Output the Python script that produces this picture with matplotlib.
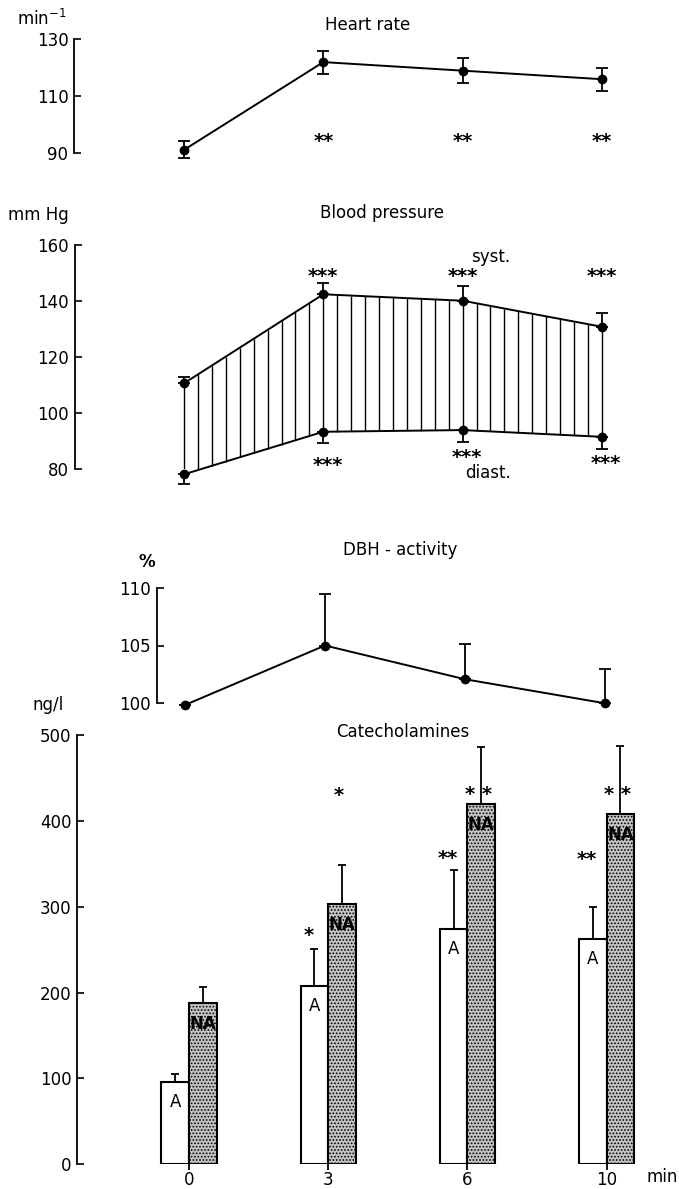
import numpy as np
import matplotlib
matplotlib.use('Agg')
import matplotlib.pyplot as plt

W, H = 679, 1189

times = ['0', '3', '6', '10']
pos = np.arange(len(times))

# heart rate (min-1)
hr = [91.2, 122, 119, 116]
hr_err = [3, 4, 4.5, 4]
hr_stars = ['', '**', '**', '**']
hr_star_y = [None, 95.7, 95.7, 95.7]

# blood pressure (mm Hg)
syst = [110.6, 142.4, 140.1, 130.8]
syst_err = [2.4, 3.9, 5.4, 4.8]
diast = [78.1, 93.3, 93.9, 91.5]
diast_err = [3.5, 4.1, 4.4, 4.4]
syst_stars = ['', '***', '***', '***']
syst_star_y = [None, 150.4, 150.4, 150.4]
diast_stars = ['', '***', '***', '***']
diast_star_y = [None, 83.0, 85.8, 83.6]

# DBH activity (%)
dbh = [99.8, 105.0, 102.05, 99.95]
dbh_err = [0, 4.5, 3.1, 3.0]

# catecholamines (ng/l)
adr = [96, 208, 274, 262]
adr_err = [9, 43, 69, 38]
nor = [188, 303, 420, 408]
nor_err = [18, 46, 66, 79]
adr_stars = ['', '*', '**', '**']
adr_star_y = [None, 272, 362, 361]
nor_stars = ['', '*', '* *', '* *']
nor_star_y = [None, 435, 436, 437]

plt.rcParams['font.family'] = 'DejaVu Sans'
plt.rcParams['hatch.linewidth'] = 0.8

fig = plt.figure(figsize=(W / 100, H / 100), dpi=100)


def px_axes(spine_x, top, bottom, x0, scale, ylim, right=655):
    ax = fig.add_axes([spine_x / W, 1 - bottom / H, (right - spine_x) / W, (bottom - top) / H])
    ax.set_xlim((spine_x - x0) / scale, (right - x0) / scale)
    ax.set_ylim(*ylim)
    for s in ['top', 'right', 'bottom']:
        ax.spines[s].set_visible(False)
    ax.spines['left'].set_linewidth(1.3)
    ax.tick_params(axis='y', direction='in', length=5, width=1.2, pad=4, labelsize=12)
    ax.set_xticks([])
    ax.patch.set_visible(False)
    return ax


def ftext(x, y, s, **kw):
    fig.text(x / W, 1 - y / H, s, va='center', fontsize=12, **kw)


def stars(ax, x, y, s):
    # asterisks sit high in the font, so anchor on the baseline and drop them
    ax.annotate(s, (x, y), xytext=(0, -7.5), textcoords='offset points',
                ha='center', va='baseline', fontsize=14, fontweight='bold')


lw = 1.4
ms = 6

# heart rate
ax1 = px_axes(74, 39.3, 153.3, 184, 139.3, (90, 130))
ax1.set_yticks([90, 110, 130])
ax1.errorbar(pos, hr, yerr=hr_err, color='black', lw=lw, marker='o', ms=ms,
             capsize=4, elinewidth=1.3, capthick=1.3, clip_on=False)
for i in range(len(times)):
    if hr_stars[i]:
        stars(ax1, pos[i], hr_star_y[i], hr_stars[i])
ftext(17, 19, 'min$^{-1}$')
ftext(368, 25, 'Heart rate', ha='center')

# blood pressure
ax2 = px_axes(74.5, 245, 469, 184, 139.3, (80, 160))
ax2.set_yticks([80, 100, 120, 140, 160])
xs = np.linspace(0, 3, 31)
ax2.vlines(xs, np.interp(xs, pos, diast), np.interp(xs, pos, syst), color='black', lw=1.0)
ax2.errorbar(pos, syst, yerr=[np.zeros(4), syst_err], color='black', lw=lw, marker='o',
             ms=ms, capsize=4, elinewidth=1.3, capthick=1.3, clip_on=False)
ax2.errorbar(pos, diast, yerr=[diast_err, np.zeros(4)], color='black', lw=lw, marker='o',
             ms=ms, capsize=4, elinewidth=1.3, capthick=1.3, clip_on=False)
for i in range(len(times)):
    if syst_stars[i]:
        stars(ax2, pos[i], syst_star_y[i], syst_stars[i])
    if diast_stars[i]:
        stars(ax2, pos[i] + 0.03, diast_star_y[i], diast_stars[i])
ax2.text(2.06, 155.8, 'syst.', ha='left', va='center', fontsize=12)
ax2.text(2.02, 78.4, 'diast.', ha='left', va='center', fontsize=12)
ftext(8, 215, 'mm Hg')
ftext(382, 213, 'Blood pressure', ha='center')

# DBH activity
ax3 = px_axes(156.8, 588.3, 702.7, 185, 140, (100, 110))
ax3.set_yticks([100, 105, 110])
ax3.errorbar(pos, dbh, yerr=[np.zeros(4), dbh_err], color='black', lw=lw, marker='o',
             ms=ms, capsize=4, elinewidth=1.3, capthick=1.3, clip_on=False)
ftext(147, 562, '%', ha='center', fontweight='bold')
ftext(400, 550, 'DBH - activity', ha='center')

# catecholamines
ax4 = px_axes(77, 735, 1164.3, 189, 139.2, (0, 500))
ax4.set_yticks([0, 100, 200, 300, 400, 500])
bw = 0.198
ax4.bar(pos - bw / 2, adr, bw, color='white', edgecolor='black', lw=1.5,
        yerr=[np.zeros(4), adr_err], capsize=3,
        error_kw=dict(elinewidth=1.3, capthick=1.3))
ax4.bar(pos + bw / 2, nor, bw, color='#c4c4c4', edgecolor='black', lw=1.5, hatch='.....',
        yerr=[np.zeros(4), nor_err], capsize=3,
        error_kw=dict(elinewidth=1.3, capthick=1.3))
for i in range(len(times)):
    ax4.annotate('A', (pos[i] - bw / 2, adr[i]), xytext=(0, -14.5), textcoords='offset points',
                 ha='center', va='center', fontsize=12)
    ax4.annotate('NA', (pos[i] + bw / 2, nor[i]), xytext=(0, -15), textcoords='offset points',
                 ha='center', va='center', fontsize=12, fontweight='bold')
    if adr_stars[i]:
        stars(ax4, pos[i] - bw / 2 - 0.04, adr_star_y[i], adr_stars[i])
    if nor_stars[i]:
        stars(ax4, pos[i] + bw / 2 - 0.02, nor_star_y[i], nor_stars[i])
ax4.set_xticks(pos)
ax4.set_xticklabels(times)
ax4.tick_params(axis='x', direction='out', length=4, width=1.3, pad=1, labelsize=12)
ftext(32, 705, 'ng/l')
ftext(403, 732, 'Catecholamines', ha='center')
ftext(647, 1177, 'min')

fig.savefig('out.png', dpi=100)
